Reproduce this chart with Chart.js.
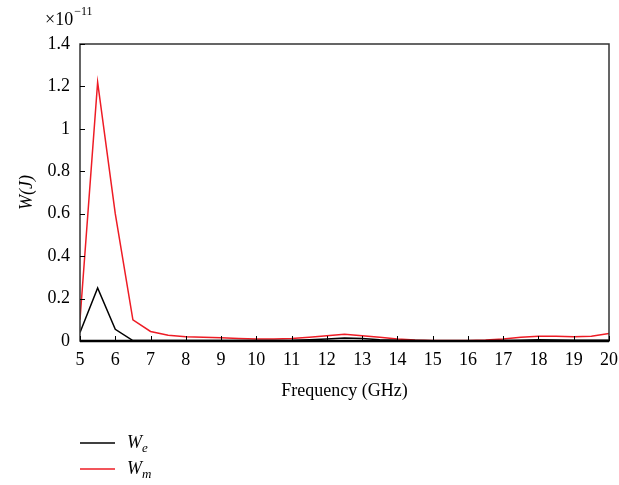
<!DOCTYPE html>
<html>
<head>
<meta charset="utf-8">
<script src="https://cdn.jsdelivr.net/npm/chart.js@4/dist/chart.umd.min.js"></script>
<style>
  html, body { margin: 0; padding: 0; background: #fff; }
  #wrap { width: 619px; height: 485px; position: relative; }
</style>
</head>
<body>
<div id="wrap"><canvas id="wChart" width="619" height="485"></canvas></div>
<script>
// Data (values in units of 1e-11 J)
const freq = [5, 5.5, 6, 6.5, 7, 7.5, 8, 8.5, 9, 9.5, 10, 10.5, 11, 11.5, 12, 12.5, 13, 13.5, 14, 14.5, 15, 15.5, 16, 16.5, 17, 17.5, 18, 18.5, 19, 19.5, 20];
const We = [0.04, 0.25, 0.055, 0.002, 0.002, 0.002, 0.002, 0.002, 0.002, 0.002, 0.002, 0.002, 0.003, 0.006, 0.01, 0.014, 0.012, 0.006, 0.003, 0.002, 0.001, 0.001, 0.001, 0.001, 0.002, 0.004, 0.006, 0.005, 0.004, 0.003, 0.003];
const Wm = [0.1, 1.22, 0.6, 0.1, 0.045, 0.027, 0.02, 0.018, 0.015, 0.012, 0.01, 0.01, 0.012, 0.018, 0.025, 0.032, 0.025, 0.018, 0.01, 0.005, 0.002, 0.002, 0.002, 0.005, 0.01, 0.018, 0.022, 0.022, 0.02, 0.022, 0.035];
const xTicks = [5, 6, 7, 8, 9, 10, 11, 12, 13, 14, 15, 16, 17, 18, 19, 20];
const yTicks = [0, 0.2, 0.4, 0.6, 0.8, 1, 1.2, 1.4];

const FONT = "'Liberation Serif', 'DejaVu Serif', serif";
const BLACK = '#000000';
const RED = '#ee1c25';

// frame, inward ticks, exponent label and legend
const decorations = {
  id: 'decorations',
  afterDraw(chart) {
    const { ctx, chartArea: a, scales } = chart;
    ctx.save();
    ctx.strokeStyle = '#333';
    ctx.lineWidth = 1.5;
    ctx.strokeRect(a.left, a.top, a.right - a.left, a.bottom - a.top);
    ctx.strokeStyle = '#000';
    ctx.lineWidth = 2.5;
    ctx.beginPath();
    ctx.moveTo(a.left, a.bottom);
    ctx.lineTo(a.right, a.bottom);
    ctx.stroke();

    ctx.lineWidth = 1;
    xTicks.forEach(v => {
      const x = Math.round(scales.x.getPixelForValue(v)) + 0.5;
      ctx.beginPath();
      ctx.moveTo(x, a.bottom);
      ctx.lineTo(x, a.bottom - 5);
      ctx.stroke();
    });
    yTicks.forEach(v => {
      const y = Math.round(scales.y.getPixelForValue(v)) + 0.5;
      ctx.beginPath();
      ctx.moveTo(a.left, y);
      ctx.lineTo(a.left + 5, y);
      ctx.stroke();
    });

    // x10^-11
    ctx.fillStyle = '#000';
    ctx.textBaseline = 'alphabetic';
    ctx.textAlign = 'left';
    ctx.font = `18px ${FONT}`;
    ctx.fillText('×10', 45, 25);
    const w = ctx.measureText('×10').width;
    ctx.font = `12px ${FONT}`;
    ctx.fillText('−11', 45 + w + 1, 15);

    // legend
    const items = [
      { color: BLACK, main: 'W', sub: 'e', y: 448 },
      { color: RED, main: 'W', sub: 'm', y: 474 }
    ];
    items.forEach(it => {
      ctx.strokeStyle = it.color;
      ctx.lineWidth = 1.5;
      ctx.beginPath();
      ctx.moveTo(80, it.y - 5);
      ctx.lineTo(115, it.y - 5);
      ctx.stroke();
      ctx.fillStyle = '#000';
      ctx.font = `italic 18px ${FONT}`;
      ctx.fillText(it.main, 127, it.y);
      const mw = ctx.measureText(it.main).width;
      ctx.font = `italic 13px ${FONT}`;
      ctx.fillText(it.sub, 127 + mw, it.y + 4);
    });
    ctx.restore();
  }
};

const ctx = document.getElementById('wChart').getContext('2d');
const chart = new Chart(ctx, {
  type: 'line',
  data: {
    datasets: [
      {
        label: 'We',
        data: freq.map((f, i) => ({ x: f, y: We[i] })),
        borderColor: BLACK,
        borderWidth: 1.5,
        pointRadius: 0,
        tension: 0
      },
      {
        label: 'Wm',
        data: freq.map((f, i) => ({ x: f, y: Wm[i] })),
        borderColor: RED,
        borderWidth: 1.5,
        pointRadius: 0,
        tension: 0
      }
    ]
  },
  options: {
    responsive: false,
    animation: false,
    layout: { padding: { top: 44, right: 10, bottom: 79, left: 0 } },
    plugins: {
      legend: { display: false },
      tooltip: { enabled: false }
    },
    scales: {
      x: {
        type: 'linear',
        min: 5,
        max: 20,
        afterBuildTicks: s => { s.ticks = xTicks.map(v => ({ value: v })); },
        afterFit: s => { s.height = 65; },
        grid: { display: false },
        border: { display: false },
        ticks: { color: '#000', font: { family: FONT, size: 18 }, padding: 0, maxRotation: 0 },
        title: { display: true, text: 'Frequency (GHz)', color: '#000', font: { family: FONT, size: 18 }, padding: { top: 10 } }
      },
      y: {
        min: 0,
        max: 1.4,
        afterBuildTicks: s => { s.ticks = yTicks.map(v => ({ value: v })); },
        afterFit: s => { s.width = 80; },
        grid: { display: false },
        border: { display: false },
        ticks: {
          color: '#000',
          font: { family: FONT, size: 18 },
          padding: 2,
          callback: v => String(Math.round(v * 10) / 10)
        },
        title: { display: true, text: 'W(J)', color: '#000', font: { family: FONT, size: 18, style: 'italic' }, padding: { top: 16, bottom: 0 } }
      }
    }
  },
  plugins: [decorations]
});
</script>
</body>
</html>
